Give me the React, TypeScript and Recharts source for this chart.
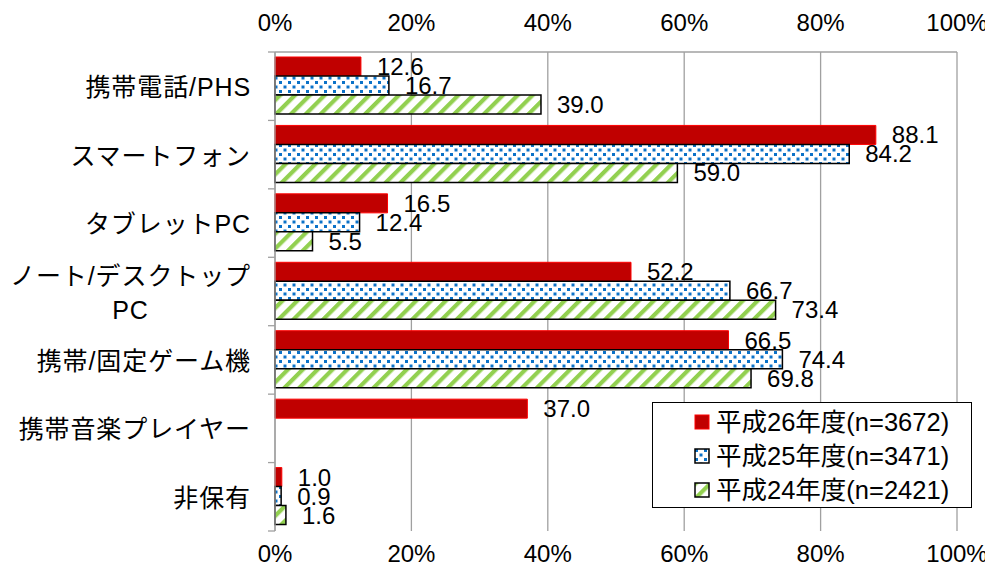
import { BarChart, Bar, XAxis, YAxis, CartesianGrid, LabelList, Legend } from 'recharts';

// 端末別の利用率(%)
const categories = [
  '携帯電話/PHS',
  'スマートフォン',
  'タブレットPC',
  'ノート/デスクトップ\nPC',
  '携帯/固定ゲーム機',
  '携帯音楽プレイヤー',
  '非保有',
];
const fy2014 = [12.6, 88.1, 16.5, 52.2, 66.5, 37.0, 1.0];
const fy2013: (number | null)[] = [16.7, 84.2, 12.4, 66.7, 74.4, null, 0.9];
const fy2012: (number | null)[] = [39.0, 59.0, 5.5, 73.4, 69.8, null, 1.6];
const percentTicks = [0, 20, 40, 60, 80, 100];

const series = [
  { key: 'fy2014', name: '平成26年度(n=3672)', fill: '#C00000', stroke: '#FF0000', strokeWidth: 1 },
  { key: 'fy2013', name: '平成25年度(n=3471)', fill: 'url(#dotsBlue)', stroke: '#000000', strokeWidth: 1.5 },
  { key: 'fy2012', name: '平成24年度(n=2421)', fill: 'url(#stripesGreen)', stroke: '#000000', strokeWidth: 1.5 },
];

const data = categories.map((name, i) => ({
  name,
  fy2014: fy2014[i],
  fy2013: fy2013[i],
  fy2012: fy2012[i],
}));

const FONT = "'Liberation Sans', Arial, 'Noto Sans CJK JP', sans-serif";
const GRID = '#A0A0A0';
const W = 985;
const H = 561;
const TOP_AXIS_H = 44;
const BOTTOM_AXIS_H = 38;
const Y_AXIS_W = 267;
const BAND = (H - TOP_AXIS_H - BOTTOM_AXIS_H) / categories.length;

const fmt = (v: any) => (v == null ? '' : Number(v).toFixed(1));

const TopTick = (props: any) => {
  const { x, y, payload } = props;
  return (
    <text x={x} y={y - 21} textAnchor="middle" fontSize={24} fontFamily={FONT} fill="#000">
      {payload.value}%
    </text>
  );
};

const BottomTick = (props: any) => {
  const { x, y, payload } = props;
  return (
    <text x={x} y={y + 31} textAnchor="middle" fontSize={24} fontFamily={FONT} fill="#000">
      {payload.value}%
    </text>
  );
};

// 項目名は右寄せ、2行の場合は中央揃え。目盛線はカテゴリの境界に引く
const CategoryTick = (props: any) => {
  const { x, y, payload, index } = props;
  const half = BAND / 2;
  const isLast = index === categories.length - 1;
  return (
    <g>
      <line x1={x - 7} x2={x} y1={y - half} y2={y - half} stroke={GRID} strokeWidth={1.3} />
      {isLast && <line x1={x - 7} x2={x} y1={y + half} y2={y + half} stroke={GRID} strokeWidth={1.3} />}
      <foreignObject x={x - 267} y={y - 39} width={243} height={80}>
        <div
          style={{
            height: 80,
            display: 'flex',
            alignItems: 'center',
            justifyContent: 'flex-end',
            fontSize: 25,
            fontFamily: FONT,
            color: '#000',
          }}
        >
          <div style={{ textAlign: 'center', lineHeight: '34px', whiteSpace: 'pre', letterSpacing: 0.9 }}>
            {payload.value}
          </div>
        </div>
      </foreignObject>
    </g>
  );
};

const renderLegend = () => (
  <div
    style={{
      boxSizing: 'border-box',
      width: 320,
      height: 106,
      border: '1.5px solid #000',
      background: '#fff',
      paddingTop: 2,
      paddingLeft: 41,
      fontFamily: FONT,
    }}
  >
    {series.map((s) => (
      <div key={s.key} style={{ display: 'flex', alignItems: 'center', height: 34 }}>
        <svg width={17} height={17} style={{ marginRight: 5 }}>
          <rect x={1} y={1} width={14} height={14} fill={s.fill} stroke={s.stroke} strokeWidth={s.strokeWidth} />
        </svg>
        <span style={{ fontSize: 25.5, lineHeight: '34px', color: '#000', whiteSpace: 'nowrap' }}>{s.name}</span>
      </div>
    ))}
  </div>
);

export default function App() {
  return (
    <div style={{ width: W, height: H }}>
      <BarChart
        width={W}
        height={H}
        data={data}
        layout="vertical"
        margin={{ top: 0, right: 36, bottom: 0, left: 0 }}
        barCategoryGap={5}
        barGap={0}
      >
        <defs>
          <pattern id="dotsBlue" width="9" height="9" patternUnits="userSpaceOnUse">
            <rect width="9" height="9" fill="#ffffff" />
            <rect x="1" y="1" width="3" height="3" fill="#0B72C8" />
            <rect x="5.5" y="5.5" width="3" height="3" fill="#0B72C8" />
          </pattern>
          <pattern id="stripesGreen" width="10.5" height="10.5" patternUnits="userSpaceOnUse" patternTransform="rotate(45)">
            <rect width="10.5" height="10.5" fill="#ffffff" />
            <rect width="4.2" height="10.5" fill="#92D050" />
          </pattern>
        </defs>
        <CartesianGrid horizontal={false} stroke={GRID} strokeWidth={1.3} />
        <XAxis
          xAxisId="top"
          type="number"
          orientation="top"
          domain={[0, 100]}
          allowDataOverflow
          ticks={percentTicks}
          height={TOP_AXIS_H}
          axisLine={{ stroke: GRID, strokeWidth: 1.3 }}
          tickLine={false}
          tickSize={0}
          tickMargin={0}
          tick={<TopTick />}
          interval={0}
        />
        <XAxis
          type="number"
          orientation="bottom"
          domain={[0, 100]}
          ticks={percentTicks}
          height={BOTTOM_AXIS_H}
          axisLine={false}
          tickLine={false}
          tickSize={0}
          tickMargin={0}
          tick={<BottomTick />}
          interval={0}
        />
        <YAxis
          type="category"
          dataKey="name"
          width={Y_AXIS_W}
          axisLine={{ stroke: GRID, strokeWidth: 1.3 }}
          tickLine={false}
          tickSize={0}
          tickMargin={0}
          tick={<CategoryTick />}
          interval={0}
        />
        {series.map((s) => (
          <Bar
            key={s.key}
            dataKey={s.key}
            name={s.name}
            fill={s.fill}
            stroke={s.stroke}
            strokeWidth={s.strokeWidth}
            isAnimationActive={false}
          >
            <LabelList
              dataKey={s.key}
              position="right"
              offset={16}
              formatter={fmt}
              fontSize={24}
              fontFamily={FONT}
              fill="#000"
            />
          </Bar>
        ))}
        <Legend
          layout="vertical"
          align="center"
          verticalAlign="middle"
          content={renderLegend}
          wrapperStyle={{ left: 644, top: 394, width: 320, height: 106 }}
        />
      </BarChart>
    </div>
  );
}
